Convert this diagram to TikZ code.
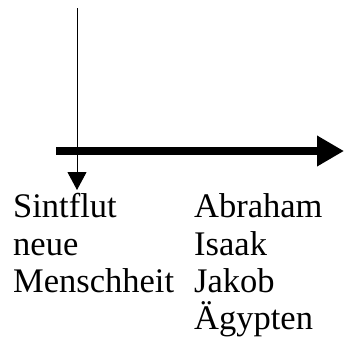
\documentclass[tikz,border=0pt]{standalone}
\usepackage{fontspec}
\setmainfont{Liberation Serif}
\usetikzlibrary{arrows.meta}
\begin{document}
\begin{tikzpicture}[x=1pt,y=-1pt,
  lbl/.style={anchor=base west,inner sep=0pt,font=\fontsize{34.5}{38}\selectfont},
  thin arrow/.style={line width=1pt,-{Triangle[width=19pt,length=18pt]}},
  thick arrow/.style={line width=8pt,-{Triangle[width=29pt,length=27pt]}}]
\useasboundingbox (0,0) rectangle (344,343);
\coordinate (vtop) at (77,8);
\coordinate (vend) at (77,190);
\coordinate (hstart) at (56,151);
\coordinate (hend) at (344,151);
\draw[thick arrow] (hstart) -- (hend);
\draw[thin arrow] (vtop) -- (vend);
\node[lbl] (l1) at (13,217) {Sintflut};
\node[lbl] (l2) at (13,255) {neue};
\node[lbl] (l3) at (13,292) {Menschheit};
\node[lbl] (r1) at (194,217) {Abraham};
\node[lbl] (r2) at (194,255) {Isaak};
\node[lbl] (r3) at (194,292) {Jakob};
\node[lbl] (r4) at (194,329) {Ägypten};
\end{tikzpicture}
\end{document}
